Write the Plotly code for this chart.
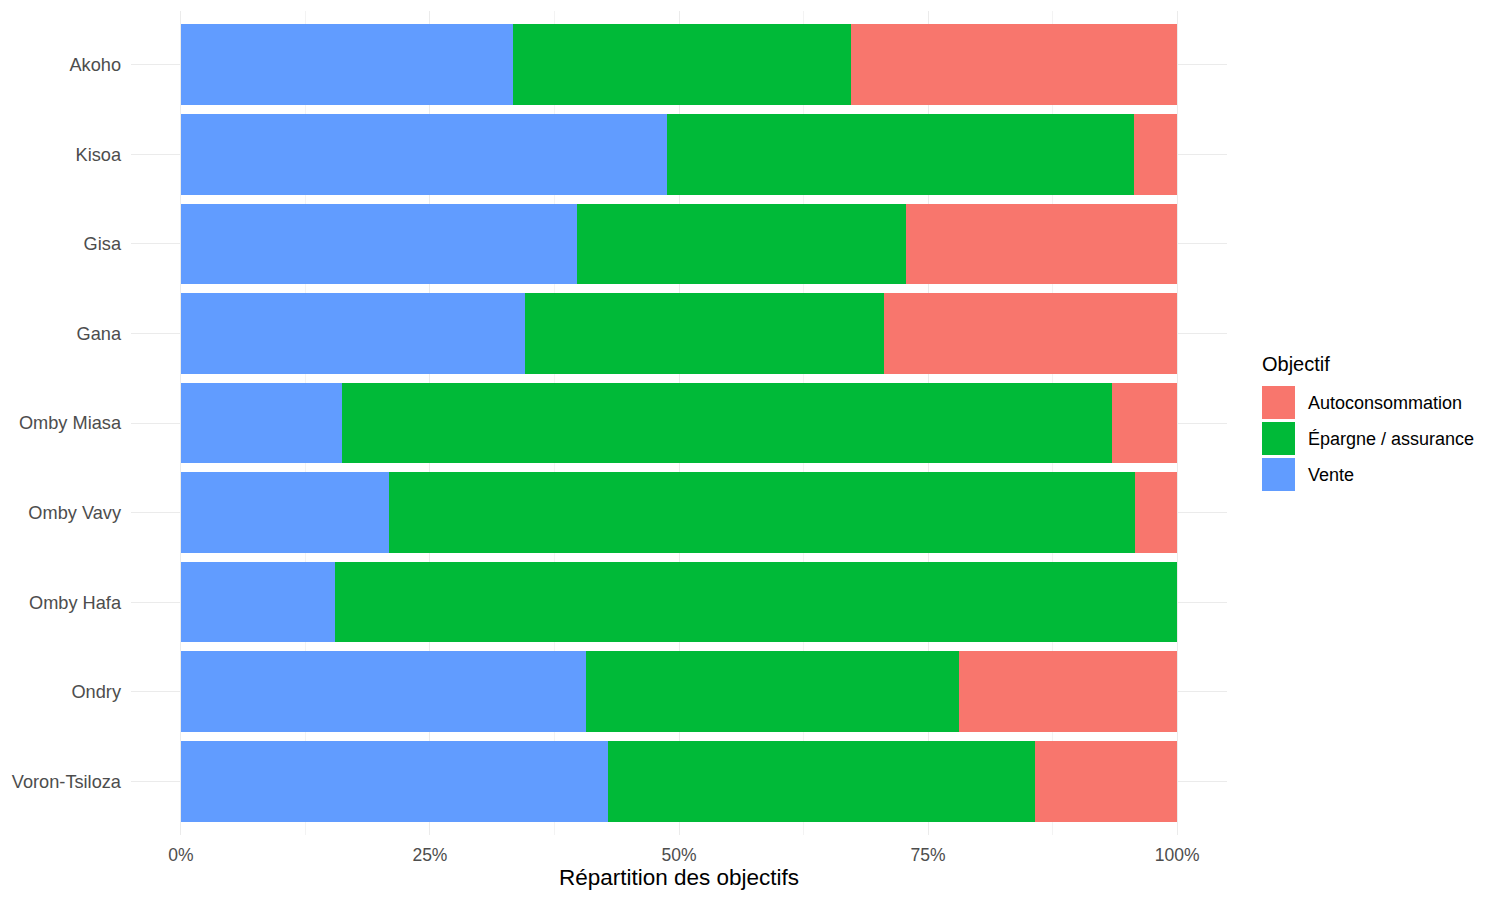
import plotly.graph_objects as go

categories = ["Akoho", "Kisoa", "Gisa", "Gana", "Omby Miasa", "Omby Vavy",
              "Omby Hafa", "Ondry", "Voron-Tsiloza"]
vente = [33.3, 48.8, 39.8, 34.5, 16.2, 20.9, 15.5, 40.7, 42.9]
epargne = [34.0, 46.9, 33.0, 36.1, 77.3, 74.9, 84.5, 37.4, 42.8]
autoconso = [32.7, 4.3, 27.2, 29.4, 6.5, 4.2, 0.0, 21.9, 14.3]

series_names = ["Vente", "Épargne / assurance", "Autoconsommation"]
series_values = [vente, epargne, autoconso]
series_colors = ["#619CFF", "#00BA38", "#F8766D"]

legend_title = "Objectif"
legend_order = ["Autoconsommation", "Épargne / assurance", "Vente"]
x_ticks = [0, 25, 50, 75, 100]
x_ticklabels = ["0%", "25%", "50%", "75%", "100%"]

W, H = 1500, 900
OFF = 8  # page body margin
ml, mr, mt, mb = 123, 281, 3, 73
PW, PH = W - ml - mr, H - mt - mb

fig = go.Figure()
for name, vals, col in zip(series_names, series_values, series_colors):
    fig.add_trace(go.Bar(
        y=categories, x=[v / 100 for v in vals], name=name, orientation="h",
        marker=dict(color=col, line=dict(width=0)), width=0.9,
        showlegend=False,
    ))

fig.update_layout(
    barmode="stack",
    width=W, height=H,
    margin=dict(l=ml, r=mr, t=mt, b=mb, autoexpand=False),
    plot_bgcolor="white", paper_bgcolor="white",
    font=dict(family="Liberation Sans, Arial, sans-serif"),
    bargap=0.1,
)
fig.update_xaxes(
    range=[-0.05, 1.05],
    tickvals=[t / 100 for t in x_ticks], ticktext=x_ticklabels,
    tickfont=dict(size=17.5, color="#4D4D4D"),
    showgrid=True, gridcolor="#EBEBEB", gridwidth=1.4,
    minor=dict(dtick=0.125, tick0=0, showgrid=True, gridcolor="#F3F3F3", gridwidth=1),
    zeroline=False, showline=False, ticks="",
    ticklabelstandoff=7,
    title=dict(text="Répartition des objectifs", font=dict(size=22.5, color="black"), standoff=5),
)
fig.update_yaxes(
    categoryorder="array", categoryarray=categories[::-1],
    range=[-0.6, len(categories) - 0.4],
    tickfont=dict(size=18.2, color="#4D4D4D"),
    showgrid=True, gridcolor="#EBEBEB", gridwidth=1.4,
    zeroline=False, showline=False, ticks="",
    ticklabelstandoff=9,
)

# manual ggplot-style legend (screen pixel -> paper coords)
def px_x(sx):
    return (sx - OFF - ml) / PW
def px_y(sy):
    return 1 - (sy - OFF - mt) / PH

fig.add_annotation(x=px_x(1260), y=px_y(364), xref="paper", yref="paper",
                   text=legend_title, showarrow=False, xanchor="left", yanchor="middle",
                   font=dict(size=20, color="black"))
color_map = dict(zip(series_names, series_colors))
for i, name in enumerate(legend_order):
    y0 = 386 + i * 36
    fig.add_shape(type="rect", xref="paper", yref="paper",
                  x0=px_x(1262), x1=px_x(1295), y0=px_y(y0), y1=px_y(y0 + 33),
                  fillcolor=color_map[name], line=dict(width=0))
    fig.add_annotation(x=px_x(1306), y=px_y(y0 + 16.5), xref="paper", yref="paper",
                       text=name, showarrow=False, xanchor="left", yanchor="middle",
                       font=dict(size=18, color="black"))

fig.write_html("out.html")
